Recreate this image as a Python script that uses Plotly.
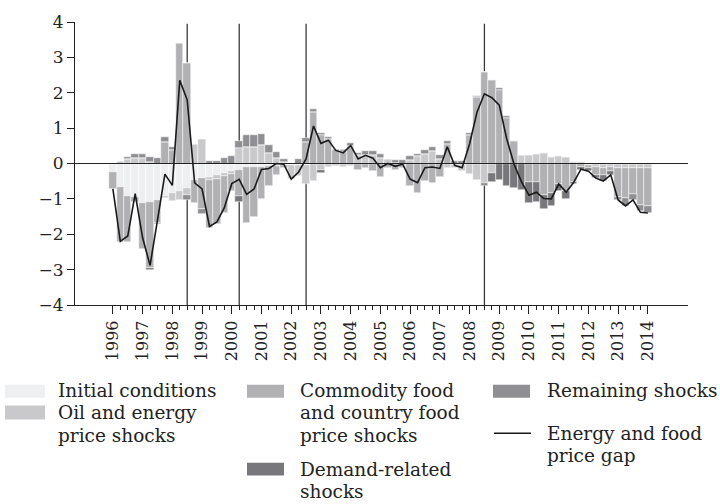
import plotly.graph_objects as go

quarters = [f"{y}Q{q}" for y in range(1996, 2015) for q in range(1, 5)][:73]
year_labels = [str(y) for y in range(1996, 2015)]
event_quarters = ["1998Q3", "2000Q2", "2002Q3", "2008Q3"]

initial = [-0.25, -0.67, -0.93, -0.95, -1.12, -1.09, -1.02, -0.93, -0.84, -0.77,
           -0.70, -0.47, -0.42, -0.38, -0.33, -0.28, -0.22, -0.17, -0.11, -0.10,
           -0.09, -0.08, -0.06, -0.05, -0.04, -0.03, -0.03, -0.02, -0.02, -0.02,
           -0.01, -0.01, -0.01, -0.01, -0.01, -0.01, -0.01, -0.01, -0.01, 0,
           0, 0, 0, 0, 0, 0, 0, 0, 0, 0,
           0, 0, 0, 0, 0, 0, 0, 0, 0, 0,
           0, 0, 0, 0, 0, 0, 0, 0, 0, 0,
           0, 0, 0]
oil = [0, 0.07, 0.14, 0.16, 0.16, 0.03, 0, -0.05, -0.21, -0.25,
       -0.19, 0.56, 0.70, -0.10, -0.10, -0.08, -0.08, 0.45, 0.47, 0.47,
       0.52, 0.31, 0.16, 0.05, -0.40, -0.33, -0.55, -0.47, -0.16, -0.08,
       -0.05, -0.10, -0.05, 0.23, 0.23, 0.24, 0.16, 0.14, 0.02, -0.07,
       0.10, 0.21, 0.28, 0.34, 0.14, -0.14, -0.12, -0.20, -0.30, -0.47,
       -0.56, -0.28, 0, 0, 0, 0.25, 0.25, 0.28, 0.31, 0.19,
       0.20, 0.19, 0.05, 0.03, -0.04, -0.09, -0.12, -0.10, -0.14, -0.14,
       -0.14, -0.14, -0.14]
commodity = [-0.47, -1.56, -1.30, -0.15, -1.30, -1.85, -0.65, 0.60, 0.37, 3.40,
             2.83, -0.64, -0.88, -1.35, -1.29, -1.04, -0.49, -0.76, -1.56, -1.42,
             -0.90, -0.57, -0.27, -0.09, 0, 0, 0.62, 1.45, 0.80, 0.70,
             0.42, 0.40, 0.50, -0.17, -0.12, -0.20, -0.37, -0.13, -0.18, -0.06,
             -0.64, -0.82, -0.49, -0.56, -0.37, 0.56, 0, 0, 0.80, 1.87,
             2.60, 2.37, 2.09, 1.30, 0.65, 0, -0.51, -0.51, -0.88, -0.84,
             -0.59, -0.79, -0.51, -0.10, -0.08, -0.23, -0.20, -0.10, -0.82, -0.84,
             -0.72, -1.02, -1.07]
demand = [0, 0, 0, 0, 0, -0.08, -0.05, 0, 0, 0,
          0, 0, 0, 0, 0, 0, 0, -0.15, 0, 0,
          0, 0, 0, 0, 0, 0, 0, 0, -0.10, 0,
          0, 0, 0, 0, 0, 0, 0, 0, 0, 0,
          0, 0, 0, 0, 0, 0, 0, 0, 0, 0,
          0, -0.23, -0.47, -0.65, -0.70, -0.75, -0.62, -0.58, -0.42, -0.35,
          -0.19, -0.20, -0.08, -0.09, -0.10, -0.09, -0.17, -0.12, 0, 0,
          0, 0, 0]
remaining = [0, 0, 0.04, 0.12, 0.12, 0.15, 0.15, 0.14, 0.09, 0,
             -0.14, 0, -0.12, 0.06, 0.08, 0.15, 0.22, 0.20, 0.33, 0.33,
             0.30, 0.20, 0.17, 0.07, 0, 0.12, 0.10, 0.08, 0.05, 0.06,
             0, 0, 0.07, 0.08, 0.12, 0.12, 0.10, 0, 0.09, 0.11,
             0.10, 0.07, 0.09, 0.12, 0.09, 0.07, 0.08, 0.08, 0.06, 0.05,
             -0.07, 0, 0.05, 0.05, 0, 0, 0, 0, 0, 0,
             0, 0, 0, 0, 0, 0, 0, 0, -0.07, -0.23,
             -0.17, -0.19, -0.19]
price_gap = [-0.72, -2.20, -2.05, -0.85, -2.10, -2.88, -1.60, -0.30, -0.62, 2.35,
             1.80, -0.55, -0.72, -1.78, -1.65, -1.25, -0.57, -0.45, -0.87, -0.72,
             -0.17, -0.14, 0.00, -0.02, -0.44, -0.24, 0.13, 1.06, 0.57, 0.66,
             0.37, 0.30, 0.51, 0.13, 0.23, 0.15, -0.12, 0.00, -0.08, -0.02,
             -0.44, -0.54, -0.12, -0.10, -0.14, 0.47, -0.05, -0.12, 0.55, 1.45,
             1.97, 1.86, 1.65, 0.70, -0.03, -0.52, -0.90, -0.81, -0.99, -1.00,
             -0.58, -0.81, -0.54, -0.16, -0.22, -0.41, -0.50, -0.32, -1.03, -1.20,
             -1.03, -1.38, -1.40]

names = ["Initial conditions", "Oil and energy price shocks",
         "Commodity food and country food price shocks",
         "Demand-related shocks", "Remaining shocks"]
colors = ["#eeeff0", "#c9c9cb", "#b1b1b4", "#78787c", "#8f8f93"]
series = [initial, oil, commodity, demand, remaining]

xpos = list(range(len(quarters)))
fig = go.Figure()
for nm, col, vals in zip(names, colors, series):
    fig.add_trace(go.Bar(x=xpos, y=vals, name=nm,
                         marker=dict(color=col, line=dict(color="white", width=0.5)),
                         showlegend=False))
fig.add_trace(go.Scatter(x=xpos, y=price_gap, mode="lines", name="Energy and food price gap",
                         line=dict(color="#1a1a1a", width=1.6), showlegend=False))

shapes = []
for q in event_quarters:
    xi = quarters.index(q)
    shapes.append(dict(type="line", xref="x", yref="y", x0=xi, x1=xi, y0=-4, y1=3.95,
                       line=dict(color="#3a3a3a", width=1.3), layer="below"))
shapes.append(dict(type="line", xref="paper", yref="y", x0=0, x1=1, y0=0, y1=0,
                   line=dict(color="#222", width=1.2), layer="above"))

# legend (drawn manually to match the reference layout)
L, W, T, H = 75, 613, 18, 287
def px(x): return (x - L) / W
def py(y): return (T + H - y) / H

legend_font = dict(family="DejaVu Serif", size=18.5, color="#222")
annotations = []
def swatch(x0, x1, y0, y1, col):
    shapes.append(dict(type="rect", xref="paper", yref="paper", x0=px(x0), x1=px(x1),
                       y0=py(y1), y1=py(y0), fillcolor=col, line=dict(width=0)))
def text(x, y, s):
    annotations.append(dict(xref="paper", yref="paper", x=px(x), y=py(y), text=s, showarrow=False,
                            xanchor="left", yanchor="middle", font=legend_font))

swatch(5, 45, 386, 399, colors[0]); text(56, 392, "Initial conditions")
swatch(5, 45, 407, 421, colors[1]); text(56, 414.5, "Oil and energy"); text(56, 437, "price shocks")
swatch(247, 284, 386, 399, colors[2]); text(298, 392, "Commodity food")
text(298, 414.5, "and country food"); text(298, 437, "price shocks")
swatch(247, 284, 465, 478, colors[3]); text(298, 472, "Demand-related"); text(298, 494.5, "shocks")
swatch(493, 530, 386, 399, colors[4]); text(545, 392, "Remaining shocks")
shapes.append(dict(type="line", xref="paper", yref="paper", x0=px(494), x1=px(531), y0=py(435), y1=py(435),
                   line=dict(color="#1a1a1a", width=1.5)))
text(545, 435, "Energy and food"); text(545, 457.5, "price gap")

major = [quarters.index(f"{y}Q1") for y in year_labels]
minor = [i for i in xpos if i not in major]

fig.update_layout(
    width=720, height=504, margin=dict(l=75, r=32, t=18, b=199),
    paper_bgcolor="white", plot_bgcolor="white",
    barmode="relative", bargap=0,
    shapes=shapes, annotations=annotations,
    font=dict(family="DejaVu Serif", size=17, color="#222"),
    xaxis=dict(range=[-5.1, 77.4], showgrid=False, zeroline=False, showline=True, linecolor="#222", linewidth=1.2,
               tickmode="array", tickvals=major, ticktext=year_labels, tickangle=-90,
               ticks="outside", ticklen=8, tickwidth=1.2, tickcolor="#222",
               tickfont=dict(family="DejaVu Serif", size=16),
               minor=dict(tickmode="array", tickvals=minor, ticks="outside", ticklen=4, tickwidth=1, tickcolor="#222")),
    yaxis=dict(range=[-4, 4], dtick=1, showgrid=False, zeroline=False, showline=True, linecolor="#222", linewidth=1.2,
               ticks="outside", ticklen=7, tickwidth=1.2, tickcolor="#222",
               tickfont=dict(family="DejaVu Serif", size=17)),
)
assert all(len(s) == len(quarters) for s in series + [price_gap])
fig.write_html("out.html", config={"displayModeBar": False},
               post_script="document.body.style.margin='0px';")
